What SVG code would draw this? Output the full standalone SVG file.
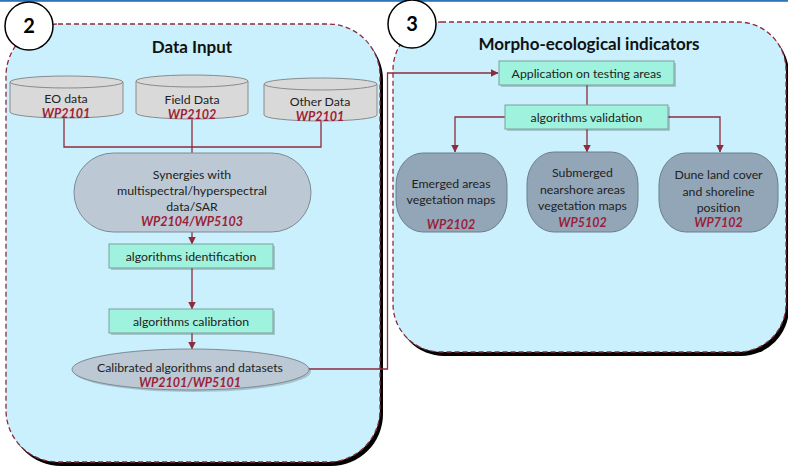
<svg xmlns="http://www.w3.org/2000/svg" width="788" height="468" viewBox="0 0 788 468">
  <defs>
    <style>
      .panel { fill: #c9f0fc; stroke: #8e2b3d; stroke-width: 1.3; stroke-dasharray: 5 3; }
      .pshadow { fill: #000; }
      .badge { fill: #fff; stroke: #000; stroke-width: 1.5; }
      .badge-t { font-family: "Lato", "Liberation Sans", sans-serif; font-weight: 700; font-size: 20px; fill: #000; text-anchor: middle; }
      .title { font-family: "Lato", "Liberation Sans", sans-serif; font-weight: 700; font-size: 17px; fill: #111; text-anchor: middle; }
      .cyl { fill: #d9d9d9; stroke: #8a8a8a; stroke-width: 1; }
      .pill { fill: #bcc8d3; stroke: #7d8a96; stroke-width: 1; }
      .res { fill: #93a6b8; stroke: #6d7d8c; stroke-width: 1; }
      .step { fill: #9ff2dd; stroke: #7a9f98; stroke-width: 1; }
      .sh { fill: #000; opacity: 0.18; }
      .t { font-family: "Lato", "Liberation Sans", sans-serif; font-size: 12.3px; fill: #222; text-anchor: middle; }
      .wp { font-family: "Lato", "Liberation Sans", sans-serif; font-size: 12.5px; font-weight: 700; font-style: italic; fill: #9b1f3a; text-anchor: middle; }
      .conn { fill: none; stroke: #8e2b3d; stroke-width: 1.3; }
    </style>
    <marker id="arr" viewBox="0 0 8 8" refX="7.5" refY="4" markerWidth="8" markerHeight="8" markerUnits="userSpaceOnUse" orient="auto">
      <path d="M0,0 L8,4 L0,8 Z" fill="#8e2b3d"/>
    </marker>
  </defs>

  <rect x="0" y="0" width="788" height="468" fill="#fff"/>
  <rect x="0" y="0" width="788" height="1.8" fill="#2e75b6"/>

  <!-- Panel 2: Data Input -->
  <g id="panel-data-input">
    <rect class="pshadow" x="9" y="28" width="374" height="438" rx="52"/>
    <rect class="panel" x="6" y="24" width="374" height="438" rx="52"/>
    <text class="title" x="192" y="53">Data Input</text>
  </g>

  <!-- Panel 3: Morpho-ecological indicators -->
  <g id="panel-indicators">
    <rect class="pshadow" x="396" y="26" width="393" height="330" rx="48"/>
    <rect class="panel" x="393" y="22" width="393" height="330" rx="48"/>
    <text class="title" x="589" y="50">Morpho-ecological indicators</text>
  </g>

  <g id="badge-2">
    <circle class="badge" cx="29" cy="26" r="24"/>
    <text class="badge-t" x="29" y="33">2</text>
  </g>
  <g id="badge-3">
    <circle class="badge" cx="412" cy="24" r="24"/>
    <text class="badge-t" x="412" y="31">3</text>
  </g>

  <!-- connectors -->
  <g id="connectors">
    <path class="conn" d="M64,118 V147 H321 V121"/>
    <path class="conn" d="M192,119 V153"/>
    <path class="conn" d="M192,232 V244" marker-end="url(#arr)"/>
    <path class="conn" d="M192,268 V309" marker-end="url(#arr)"/>
    <path class="conn" d="M192,333 V349" marker-end="url(#arr)"/>
    <path class="conn" d="M309,369 H387.5 V73 H498" marker-end="url(#arr)"/>
    <path class="conn" d="M587,85 V105"/>
    <path class="conn" d="M505,117 H455 V152" marker-end="url(#arr)"/>
    <path class="conn" d="M587,129 V152" marker-end="url(#arr)"/>
    <path class="conn" d="M668,117 H720 V152" marker-end="url(#arr)"/>
  </g>

  <!-- data sources -->
  <g id="eo-data">
    <path class="cyl" d="M10,82 V112 A56.5,6 0 0 0 123,112 V82"/>
    <ellipse class="cyl" cx="66.5" cy="82" rx="56.5" ry="6"/>
    <text class="t" x="66" y="102.5">EO data</text>
    <text class="wp" x="66" y="117.5">WP2101</text>
  </g>
  <g id="field-data">
    <path class="cyl" d="M136,81 V113 A56,6 0 0 0 248,113 V81"/>
    <ellipse class="cyl" cx="192" cy="81" rx="56" ry="6"/>
    <text class="t" x="192" y="103.5">Field Data</text>
    <text class="wp" x="192" y="118.5">WP2102</text>
  </g>
  <g id="other-data">
    <path class="cyl" d="M264,84 V115 A56.5,6 0 0 0 377,115 V84"/>
    <ellipse class="cyl" cx="320.5" cy="84" rx="56.5" ry="6"/>
    <text class="t" x="320" y="105.5">Other Data</text>
    <text class="wp" x="320" y="120.5">WP2101</text>
  </g>

  <g id="synergies">
    <rect class="pill" x="74" y="153" width="237" height="79" rx="39.5"/>
    <text class="t" x="192" y="178.5">Synergies with</text>
    <text class="t" x="192" y="194.5" textLength="150" lengthAdjust="spacingAndGlyphs">multispectral/hyperspectral</text>
    <text class="t" x="192" y="210.5">data/SAR</text>
    <text class="wp" x="192" y="225.5">WP2104/WP5103</text>
  </g>

  <g id="alg-identification">
    <rect class="sh" x="111" y="246" width="164" height="24"/>
    <rect class="step" x="109" y="244" width="164" height="24"/>
    <text class="t" x="191" y="260.5">algorithms identification</text>
  </g>

  <g id="alg-calibration">
    <rect class="sh" x="111" y="311" width="164" height="24"/>
    <rect class="step" x="109" y="309" width="164" height="24"/>
    <text class="t" x="191" y="325.5">algorithms calibration</text>
  </g>

  <g id="calibrated">
    <ellipse class="sh" cx="192.5" cy="371.5" rx="118.5" ry="20.5"/>
    <ellipse class="pill" cx="190.5" cy="369.5" rx="118.5" ry="20.5"/>
    <text class="t" x="190" y="372">Calibrated algorithms and datasets</text>
    <text class="wp" x="190" y="387">WP2101/WP5101</text>
  </g>

  <g id="application">
    <rect class="sh" x="501" y="63" width="175" height="24"/>
    <rect class="step" x="499" y="61" width="175" height="24"/>
    <text class="t" x="586.5" y="77.5">Application on testing areas</text>
  </g>

  <g id="validation">
    <rect class="sh" x="507" y="107" width="163" height="24"/>
    <rect class="step" x="505" y="105" width="163" height="24"/>
    <text class="t" x="586.5" y="121.5">algorithms validation</text>
  </g>

  <g id="emerged">
    <rect class="res" x="396" y="153" width="111" height="79" rx="27" ry="32"/>
    <text class="t" x="451" y="188">Emerged areas</text>
    <text class="t" x="451" y="204">vegetation maps</text>
    <text class="wp" x="451" y="229">WP2102</text>
  </g>

  <g id="submerged">
    <rect class="res" x="527" y="152" width="111" height="80" rx="27" ry="32"/>
    <text class="t" x="582.5" y="177">Submerged</text>
    <text class="t" x="582.5" y="193.5">nearshore areas</text>
    <text class="t" x="582.5" y="210">vegetation maps</text>
    <text class="wp" x="582.5" y="227">WP5102</text>
  </g>

  <g id="dune">
    <rect class="res" x="659" y="153" width="119" height="79" rx="27" ry="32"/>
    <text class="t" x="718.5" y="179">Dune land cover</text>
    <text class="t" x="718.5" y="195.5">and shoreline</text>
    <text class="t" x="718.5" y="212">position</text>
    <text class="wp" x="718.5" y="227">WP7102</text>
  </g>
</svg>
